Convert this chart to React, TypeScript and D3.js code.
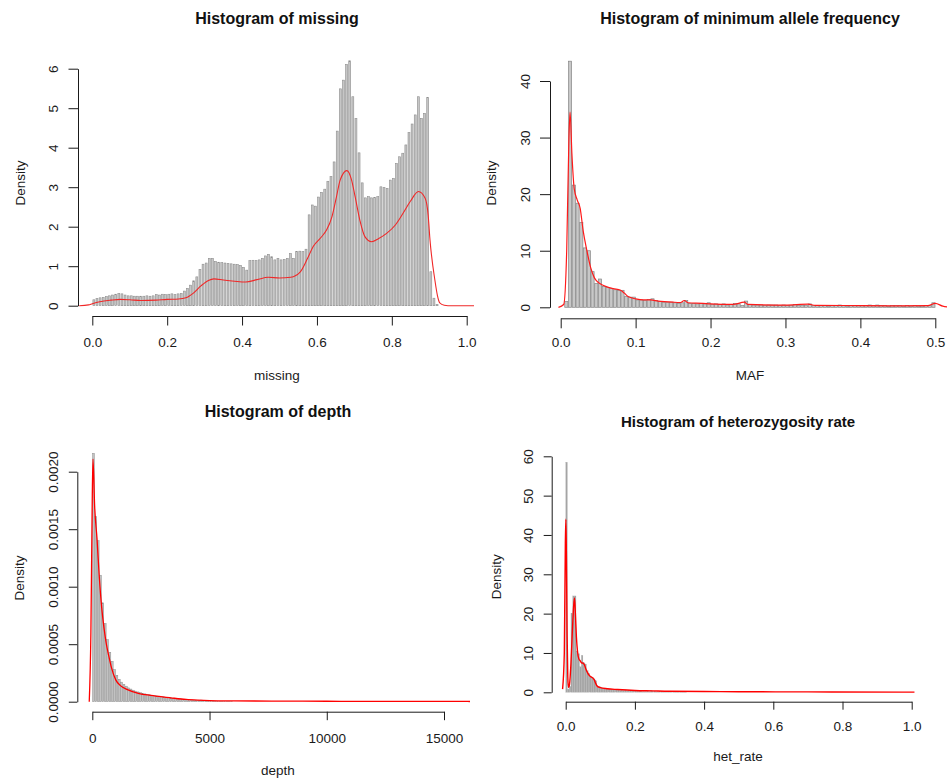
import { useEffect, useRef } from "react";
import * as d3 from "d3";

// missing: bins of width 1/120 starting at 0
const missingStart = 0;
const missingStep = 1 / 120;
const missingDensity = [
  0.15, 0.18, 0.2, 0.21, 0.23, 0.25, 0.27, 0.29, 0.31, 0.3,
  0.27, 0.25, 0.25, 0.24, 0.24, 0.24, 0.24, 0.25, 0.24, 0.25,
  0.28, 0.27, 0.29, 0.28, 0.29, 0.3, 0.28, 0.3, 0.31, 0.37,
  0.44, 0.52, 0.63, 0.73, 0.92, 1.05, 1.08, 1.2, 1.2, 1.12,
  1.1, 1.09, 1.08, 1.07, 1.06, 1.05, 1.04, 1.02, 0.97, 0.9,
  1.14, 1.15, 1.14, 1.16, 1.2, 1.26, 1.3, 1.24, 1.16, 1.2,
  1.16, 1.17, 1.2, 1.32, 1.2, 1.37, 1.38, 1.37, 1.43, 2.3,
  2.55, 2.52, 2.75, 2.87, 2.95, 3.15, 3.27, 3.64, 4.42, 5.49,
  5.71, 6.11, 6.2, 5.29, 4.74, 3.87, 3.11, 2.73, 2.76, 2.73,
  2.74, 2.76, 3.01, 2.99, 2.97, 3.18, 3.22, 3.6, 3.77, 3.86,
  4.07, 4.38, 4.6, 4.83, 5.29, 4.74, 4.87, 5.27, 0.86, 0.19,
  0.03,
];
const missingCurve: [number, number][] = [
  [-0.035, 0], [-0.01, 0.02], [0, 0.05], [0.02, 0.1], [0.05, 0.14], [0.075, 0.16],
  [0.1, 0.15], [0.13, 0.13], [0.17, 0.14], [0.2, 0.16], [0.23, 0.17], [0.25, 0.2],
  [0.27, 0.32], [0.29, 0.5], [0.31, 0.64], [0.325, 0.68], [0.35, 0.65], [0.38, 0.62],
  [0.41, 0.6], [0.44, 0.66], [0.47, 0.72], [0.5, 0.7], [0.53, 0.72], [0.555, 0.85],
  [0.575, 1.2], [0.59, 1.5], [0.61, 1.72], [0.626, 1.92], [0.64, 2.25], [0.652, 2.75],
  [0.662, 3.18], [0.68, 3.42], [0.692, 3.2], [0.702, 2.76], [0.715, 2.15], [0.728, 1.75],
  [0.746, 1.62], [0.765, 1.7], [0.786, 1.83], [0.81, 2.05], [0.83, 2.34], [0.85, 2.65],
  [0.871, 2.89], [0.889, 2.72], [0.897, 2.3], [0.902, 1.66], [0.915, 0.65], [0.922, 0.25],
  [0.928, 0.07], [0.94, 0.01], [0.95, 0], [1.04, 0],
];

// MAF: bins of width 0.005 starting at 0.005
const mafStart = 0.005;
const mafStep = 0.005;
const mafDensity = [
  1.0, 43.5, 21.6, 18.4, 15.0, 10.5, 10.0, 6.3, 4.2, 5.0,
  3.7, 3.5, 3.3, 3.1, 3.0, 3.0, 1.9, 1.8, 1.8, 1.3,
  1.3, 1.2, 1.4, 1.5, 1.2, 1.0, 0.9, 0.9, 0.9, 0.8,
  0.7, 0.8, 1.2, 0.7, 0.7, 0.6, 0.7, 0.6, 0.8, 0.5,
  0.6, 0.5, 0.6, 0.4, 0.5, 0.7, 0.6, 0.3, 1.1, 0.5,
  0.4, 0.4, 0.4, 0.3, 0.4, 0.4, 0.4, 0.3, 0.4, 0.3,
  0.3, 0.5, 0.3, 0.3, 0.3, 0.6, 0.3, 0.3, 0.3, 0.3,
  0.2, 0.3, 0.3, 0.4, 0.3, 0.2, 0.3, 0.3, 0.3, 0.3,
  0.3, 0.4, 0.3, 0.4, 0.3, 0.3, 0.2, 0.3, 0.3, 0.3,
  0.2, 0.3, 0.2, 0.3, 0.2, 0.2, 0.3, 0.3, 0.8,
];
const mafCurve: [number, number][] = [
  [-0.003, 0], [0.004, 0.5], [0.008, 10], [0.011, 30], [0.0125, 34.5], [0.015, 27],
  [0.018, 21], [0.022, 19], [0.026, 17.5], [0.03, 13.5], [0.035, 10], [0.04, 7],
  [0.045, 5.2], [0.05, 4.4], [0.055, 4.0], [0.06, 3.7], [0.07, 3.3], [0.08, 3.0],
  [0.085, 2.5], [0.09, 1.9], [0.1, 1.5], [0.11, 1.3], [0.12, 1.3], [0.13, 1.1],
  [0.15, 0.9], [0.16, 0.85], [0.165, 1.2], [0.17, 0.8], [0.19, 0.7], [0.2, 0.6],
  [0.23, 0.5], [0.245, 0.9], [0.25, 0.5], [0.3, 0.4], [0.33, 0.55], [0.34, 0.35],
  [0.4, 0.3], [0.45, 0.25], [0.49, 0.3], [0.5, 0.7], [0.51, 0.2], [0.52, 0],
];

// depth: bins of width 100 starting at 0
const depthStart = 0;
const depthStep = 100;
const depthDensity = [
  0.00216, 0.00161, 0.0014, 0.0011, 0.00086, 0.00068, 0.00054, 0.00043, 0.00035, 0.00028,
  0.00023, 0.000195, 0.00017, 0.00015, 0.000135, 0.00012, 0.00011, 0.0001, 0.000092, 0.000085,
  0.000078, 0.000072, 0.000068, 0.000063, 0.00006, 0.000056, 0.000053, 0.00005, 0.000047, 0.000044,
  0.000042, 0.000039, 0.000036, 0.000034, 0.000031, 0.000029, 0.000027, 0.000025, 0.000022, 0.00002,
  0.000018, 0.000016, 0.000015, 0.000013, 0.000012, 0.000011, 0.000014, 0.000009, 0.000008, 0.000007,
  0.000011, 0.000006, 0.000005, 0.000005, 0.000004, 0.000004, 0.000004, 0.000003, 0.000003, 0.000003,
];
const depthCurve: [number, number][] = [
  [-130, 0], [-60, 0.0006], [0, 0.0018], [30, 0.00211], [100, 0.0017], [200, 0.00142],
  [300, 0.00108], [400, 0.00082], [500, 0.00064], [600, 0.0005], [700, 0.0004], [800, 0.00031],
  [1000, 0.00019], [1200, 0.00014], [1500, 0.000105], [2000, 0.00007], [2500, 0.000055],
  [3000, 0.000042], [3500, 0.00003], [4000, 0.00002], [4500, 0.000014], [5000, 0.00001],
  [6000, 0.000007], [8000, 0.000005], [10000, 0.000004], [12000, 0.000003], [14000, 0.000003],
  [16000, 0.000002], [16600, 0.000001],
];

// het_rate: bins of width 0.005 starting at 0
const hetStart = 0;
const hetStep = 0.005;
const hetDensity = [
  58.5, 0.8, 1.5, 20.1, 24.5, 24.5, 10.5, 9.8, 6.5, 9.4,
  7.5, 7.2, 5.5, 4.8, 4.0, 3.7, 3.4, 2.9, 1.6, 1.5,
  1.2, 1.1, 1.0, 0.9, 0.9, 0.8, 0.8, 0.7, 0.7, 0.6,
  0.6, 0.5, 0.5, 0.5, 0.6, 0.4, 0.4, 0.4, 0.3, 0.3,
  0.3, 0.3, 0.3, 0.3, 0.2, 0.2, 0.2, 0.2, 0.2, 0.5,
  0.2, 0.2, 0.15, 0.15, 0.15, 0.15, 0.15, 0.1, 0.1, 0.1,
  0.1, 0.1, 0.1, 0.1, 0.1, 0.1, 0.1, 0.1, 0.1, 0.1,
];
const hetCurve: [number, number][] = [
  [-0.009, 0.8], [-0.004, 10], [-0.001, 38], [0.0005, 44], [0.002, 35], [0.004, 15],
  [0.006, 4], [0.008, 1.2], [0.011, 2], [0.015, 7], [0.019, 15], [0.023, 22],
  [0.0255, 24], [0.028, 20], [0.031, 14], [0.034, 10.5], [0.038, 8.5], [0.042, 8.0],
  [0.046, 7.5], [0.05, 7.4], [0.054, 7.0], [0.058, 6.0], [0.063, 5.0], [0.068, 4.3],
  [0.074, 3.9], [0.079, 3.6], [0.083, 3.1], [0.087, 2.2], [0.092, 1.5], [0.1, 1.2],
  [0.12, 0.9], [0.15, 0.7], [0.2, 0.45], [0.25, 0.35], [0.3, 0.25], [0.4, 0.2],
  [0.5, 0.15], [0.7, 0.1], [1.0, 0.05], [1.008, 0.05],
];

const font = "'Liberation Sans', Arial, Helvetica, sans-serif";

const panels = [
  {
    title: "Histogram of missing", xlab: "missing",
    bins: missingDensity, start: missingStart, step: missingStep, curve: missingCurve,
    xDomain: [0, 1], xRange: [92.3, 466.7], yDomain: [0, 6], yRange: [305.7, 68.7],
    xTicks: [0, 0.2, 0.4, 0.6, 0.8, 1], xFmt: ".1f", yTicks: [0, 1, 2, 3, 4, 5, 6], yFmt: "d",
    axisX: 78, axisY: 316, clip: [78, 40, 474, 316],
    titleAt: [277, 23.5], titleSize: 16, xlabAt: [277, 380], ylabAt: [25, 183],
    xTickBase: 347, yTickBase: 58.3, tick: 9.5,
    bar: { fill: "#c6c6c6", stroke: "#8e8e8e", sw: 0.6, gap: 1.2 },
    red: { color: "#f02828", w: 1.1 },
  },
  {
    title: "Histogram of minimum allele frequency", xlab: "MAF",
    bins: mafDensity, start: mafStart, step: mafStep, curve: mafCurve,
    xDomain: [0, 0.5], xRange: [560.7, 935.3], yDomain: [0, 40], yRange: [307.3, 81],
    xTicks: [0, 0.1, 0.2, 0.3, 0.4, 0.5], xFmt: ".1f", yTicks: [0, 10, 20, 30, 40], yFmt: "d",
    axisX: 550, axisY: 318.3, clip: [550, 40, 947, 318.3],
    titleAt: [750, 23.5], titleSize: 16, xlabAt: [750, 380], ylabAt: [496, 183],
    xTickBase: 347, yTickBase: 530, tick: 10,
    bar: { fill: "#c8c8c8", stroke: "#868686", sw: 0.7, gap: 0.6 },
    red: { color: "#ff1a1a", w: 1.2 },
  },
  {
    title: "Histogram of depth", xlab: "depth",
    bins: depthDensity, start: depthStart, step: depthStep, curve: depthCurve,
    xDomain: [0, 15000], xRange: [92.3, 444], yDomain: [0, 0.002], yRange: [701.7, 471.7],
    xTicks: [0, 5000, 10000, 15000], xFmt: "d", yTicks: [0, 0.0005, 0.001, 0.0015, 0.002], yFmt: ".4f",
    axisX: 77.3, axisY: 711.7, clip: [77.3, 440, 470, 711.7],
    titleAt: [278, 417], titleSize: 16, xlabAt: [278, 775], ylabAt: [24, 578],
    xTickBase: 743, yTickBase: 58.3, tick: 8.5,
    bar: { fill: "#c2c2c2", stroke: "#888888", sw: 0.45, gap: 0.5 },
    red: { color: "#ff0000", w: 1.3 },
  },
  {
    title: "Histogram of heterozygosity rate", xlab: "het_rate",
    bins: hetDensity, start: hetStart, step: hetStep, curve: hetCurve,
    xDomain: [0, 1], xRange: [565.7, 911.7], yDomain: [0, 60], yRange: [692.3, 456.3],
    xTicks: [0, 0.2, 0.4, 0.6, 0.8, 1], xFmt: ".1f", yTicks: [0, 10, 20, 30, 40, 50, 60], yFmt: "d",
    axisX: 551.7, axisY: 701.7, clip: [551.7, 450, 926, 701.7],
    titleAt: [738, 426.7], titleSize: 15, xlabAt: [738, 761], ylabAt: [501, 576.7],
    xTickBase: 730.7, yTickBase: 533, tick: 8,
    bar: { fill: "#a4a4a4", stroke: "#a4a4a4", sw: 0.2, gap: 0.15 },
    red: { color: "#ff0000", w: 1.4 },
  },
];

export default function App() {
  const ref = useRef<SVGSVGElement | null>(null);

  useEffect(() => {
    const svg = d3.select(ref.current);
    svg.selectAll("*").remove();

    panels.forEach((p, pi) => {
      const x = d3.scaleLinear().domain(p.xDomain).range(p.xRange);
      const y = d3.scaleLinear().domain(p.yDomain).range(p.yRange);
      const g = svg.append("g");

      const [cx0, cy0, cx1, cy1] = p.clip;
      svg
        .append("clipPath")
        .attr("id", "clip" + pi)
        .append("rect")
        .attr("x", cx0)
        .attr("y", cy0)
        .attr("width", cx1 - cx0)
        .attr("height", cy1 - cy0);

      const plot = g.append("g").attr("clip-path", `url(#clip${pi})`);

      // histogram bars
      plot
        .selectAll("rect")
        .data(p.bins)
        .enter()
        .append("rect")
        .attr("x", (d, i) => x(p.start + i * p.step) + p.bar.gap / 2)
        .attr("width", (d, i) =>
          Math.max(0.3, x(p.start + (i + 1) * p.step) - x(p.start + i * p.step) - p.bar.gap)
        )
        .attr("y", (d) => y(d))
        .attr("height", (d) => y(0) - y(d))
        .attr("fill", p.bar.fill)
        .attr("stroke", p.bar.stroke)
        .attr("stroke-width", p.bar.sw);

      // density line
      const line = d3
        .line<[number, number]>()
        .x((d) => x(d[0]))
        .y((d) => y(d[1]))
        .curve(d3.curveMonotoneX);
      plot
        .append("path")
        .attr("d", line(p.curve))
        .attr("fill", "none")
        .attr("stroke", p.red.color)
        .attr("stroke-width", p.red.w);

      // x axis
      const xa = g
        .append("g")
        .attr("transform", `translate(0,${p.axisY})`)
        .call(
          d3
            .axisBottom(x)
            .tickValues(p.xTicks)
            .tickFormat(d3.format(p.xFmt) as any)
            .tickSize(p.tick)
            .tickSizeOuter(0)
        );
      xa.selectAll("text")
        .attr("y", p.xTickBase - p.axisY)
        .attr("dy", 0);

      // y axis
      const ya = g
        .append("g")
        .attr("transform", `translate(${p.axisX},0)`)
        .call(
          d3
            .axisLeft(y)
            .tickValues(p.yTicks)
            .tickFormat(d3.format(p.yFmt) as any)
            .tickSize(p.tick)
            .tickSizeOuter(0)
        );
      ya.selectAll("text")
        .attr("x", 0)
        .attr("y", p.yTickBase - p.axisX)
        .attr("dy", 0)
        .attr("text-anchor", "middle")
        .attr("transform", "rotate(-90)");

      [xa, ya].forEach((a) => {
        a.attr("font-family", font).attr("font-size", 13.5);
        a.selectAll("path, line").attr("stroke", "#1a1a1a");
        a.selectAll("text").attr("fill", "#1a1a1a");
      });

      // labels
      g.append("text")
        .attr("x", p.titleAt[0])
        .attr("y", p.titleAt[1])
        .attr("text-anchor", "middle")
        .attr("font-family", font)
        .attr("font-weight", "bold")
        .attr("font-size", p.titleSize)
        .attr("fill", "#111")
        .text(p.title);

      g.append("text")
        .attr("x", p.xlabAt[0])
        .attr("y", p.xlabAt[1])
        .attr("text-anchor", "middle")
        .attr("font-family", font)
        .attr("font-size", 13.5)
        .attr("fill", "#1a1a1a")
        .text(p.xlab);

      g.append("text")
        .attr("transform", `translate(${p.ylabAt[0]},${p.ylabAt[1]}) rotate(-90)`)
        .attr("text-anchor", "middle")
        .attr("font-family", font)
        .attr("font-size", 13.5)
        .attr("fill", "#1a1a1a")
        .text("Density");
    });
  }, []);

  return (
    <svg
      ref={ref}
      width={947}
      height={782}
      style={{ position: "absolute", left: 0, top: 0, background: "#fff" }}
    />
  );
}
